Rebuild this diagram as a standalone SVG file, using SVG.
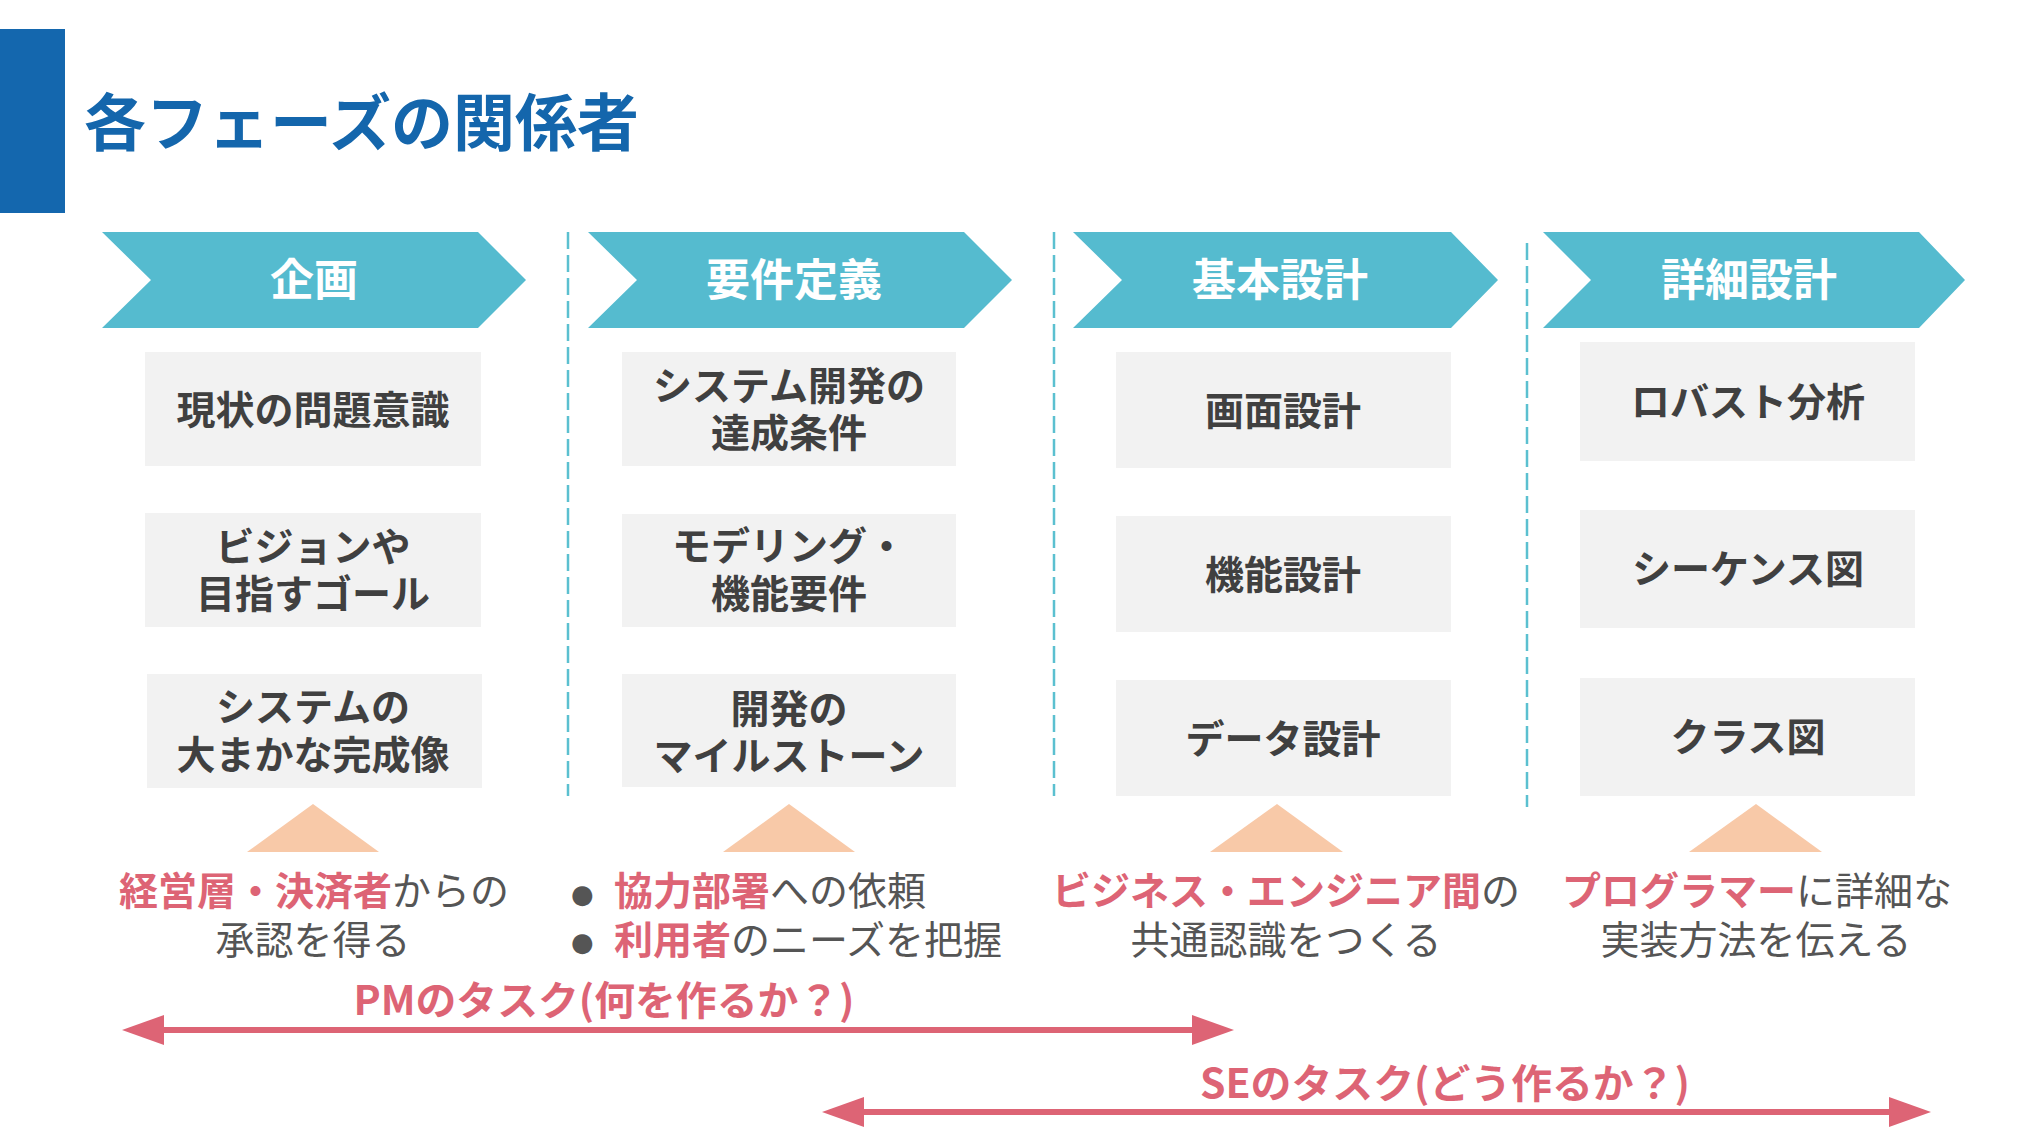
<svg xmlns="http://www.w3.org/2000/svg" width="2018" height="1134" viewBox="0 0 2018 1134">
<defs>
<style>
text{font-family:"Noto Sans CJK JP","Noto Sans CJK SC",sans-serif}
.title{font-size:62px;font-weight:700;fill:#1466AC}
.chev{fill:#55BBCF}
.chevt{font-size:44px;font-weight:700;fill:#FFFFFF;text-anchor:middle}
.box{fill:#F2F2F2}
.bt{font-size:39px;font-weight:700;fill:#404040;text-anchor:middle}
.tri{fill:#F8C9A8}
.note{font-size:39px;fill:#555555;font-weight:400}
.c{text-anchor:middle}
.em{fill:#DD6475;font-weight:700}
.div{stroke:#5BC0D0;stroke-width:2.5;stroke-dasharray:17 6;fill:none}
.arr{stroke:#DD6475;stroke-width:6;fill:none}
.lbl{font-size:40px;fill:#DD6475;font-weight:700;text-anchor:middle}
.bul{font-family:"DejaVu Sans",sans-serif;font-size:26px;fill:#555555}
</style>
<marker id="ah" markerUnits="userSpaceOnUse" markerWidth="42" markerHeight="30" viewBox="0 0 42 30" refX="24" refY="15" orient="auto-start-reverse">
<path d="M0,0 L42,15 L0,30 z" fill="#DD6475"/>
</marker>
</defs>
<rect width="2018" height="1134" fill="#FFFFFF"/>

<g id="header">
<rect x="0" y="29" width="65" height="184" fill="#1467AE"/>
<text class="title" x="84" y="146">各フェーズの関係者</text>
</g>

<g id="dividers">
<line class="div" x1="568" y1="232" x2="568" y2="796"/>
<line class="div" x1="1054" y1="232" x2="1054" y2="796"/>
<line class="div" x1="1527" y1="243" x2="1527" y2="807"/>
</g>

<g id="phase-kikaku">
<polygon class="chev" points="102,232 478,232 526,280 478,328 102,328 151,280"/>
<text class="chevt" x="314" y="296">企画</text>
</g>
<g id="phase-youken">
<polygon class="chev" points="588,232 964,232 1012,280 964,328 588,328 637,280"/>
<text class="chevt" x="794" y="296">要件定義</text>
</g>
<g id="phase-kihon">
<polygon class="chev" points="1073,232 1451,232 1498,280 1451,328 1073,328 1122,280"/>
<text class="chevt" x="1280" y="296">基本設計</text>
</g>
<g id="phase-shousai">
<polygon class="chev" points="1543,232 1919,232 1965,280 1919,328 1543,328 1591,280"/>
<text class="chevt" x="1749" y="296">詳細設計</text>
</g>

<g id="k1"><rect class="box" x="145" y="352" width="336" height="114"/><text class="bt" x="313" y="424">現状の問題意識</text></g>
<g id="k2"><rect class="box" x="145" y="513" width="336" height="114"/><text class="bt"><tspan x="313" y="561">ビジョンや</tspan><tspan x="313" y="608">目指すゴール</tspan></text></g>
<g id="k3"><rect class="box" x="147" y="674" width="335" height="114"/><text class="bt"><tspan x="313" y="721">システムの</tspan><tspan x="313" y="769">大まかな完成像</tspan></text></g>

<g id="y1"><rect class="box" x="622" y="352" width="334" height="114"/><text class="bt"><tspan x="789" y="400">システム開発の</tspan><tspan x="789" y="447">達成条件</tspan></text></g>
<g id="y2"><rect class="box" x="622" y="514" width="334" height="113"/><text class="bt"><tspan x="789" y="560">モデリング・</tspan><tspan x="789" y="608">機能要件</tspan></text></g>
<g id="y3"><rect class="box" x="622" y="674" width="334" height="113"/><text class="bt"><tspan x="789" y="723">開発の</tspan><tspan x="789" y="770">マイルストーン</tspan></text></g>

<g id="b1"><rect class="box" x="1116" y="352" width="335" height="116"/><text class="bt" x="1283" y="425">画面設計</text></g>
<g id="b2"><rect class="box" x="1116" y="516" width="335" height="116"/><text class="bt" x="1283" y="589">機能設計</text></g>
<g id="b3"><rect class="box" x="1116" y="680" width="335" height="116"/><text class="bt" x="1283" y="753">データ設計</text></g>

<g id="s1"><rect class="box" x="1580" y="342" width="335" height="119"/><text class="bt" x="1748" y="416">ロバスト分析</text></g>
<g id="s2"><rect class="box" x="1580" y="510" width="335" height="118"/><text class="bt" x="1748" y="583">シーケンス図</text></g>
<g id="s3"><rect class="box" x="1580" y="678" width="335" height="118"/><text class="bt" x="1748" y="751">クラス図</text></g>

<g id="stakeholders">
<polygon class="tri" points="313,804 379,852 247,852"/>
<polygon class="tri" points="789,804 855,852 723,852"/>
<polygon class="tri" points="1277,804 1343,852 1210,852"/>
<polygon class="tri" points="1756,804 1822,852 1689,852"/>

<text class="note c"><tspan x="314" y="905"><tspan class="em">経営層・決済者</tspan>からの</tspan><tspan x="313" y="954">承認を得る</tspan></text>

<text class="bul"><tspan x="571" y="903">●</tspan><tspan x="571" y="951">●</tspan></text>
<text class="note"><tspan x="614" y="905"><tspan class="em">協力部署</tspan>への依頼</tspan><tspan x="614" y="954"><tspan class="em">利用者</tspan>のニーズを把握</tspan></text>

<text class="note c"><tspan x="1286" y="905"><tspan class="em">ビジネス・エンジニア間</tspan>の</tspan><tspan x="1286" y="954">共通認識をつくる</tspan></text>

<text class="note c"><tspan x="1757" y="905"><tspan class="em">プログラマー</tspan>に詳細な</tspan><tspan x="1756" y="954">実装方法を伝える</tspan></text>
</g>

<g id="connectors">
<line class="arr" x1="140" y1="1030" x2="1216" y2="1030" marker-start="url(#ah)" marker-end="url(#ah)"/>
<line class="arr" x1="840" y1="1112" x2="1913" y2="1112" marker-start="url(#ah)" marker-end="url(#ah)"/>
</g>
<g id="labels">
<text class="lbl" x="604" y="1015" textLength="501" lengthAdjust="spacingAndGlyphs">PMのタスク(何を作るか？)</text>
<text class="lbl" x="1445" y="1098" textLength="490" lengthAdjust="spacingAndGlyphs">SEのタスク(どう作るか？)</text>
</g>
</svg>
